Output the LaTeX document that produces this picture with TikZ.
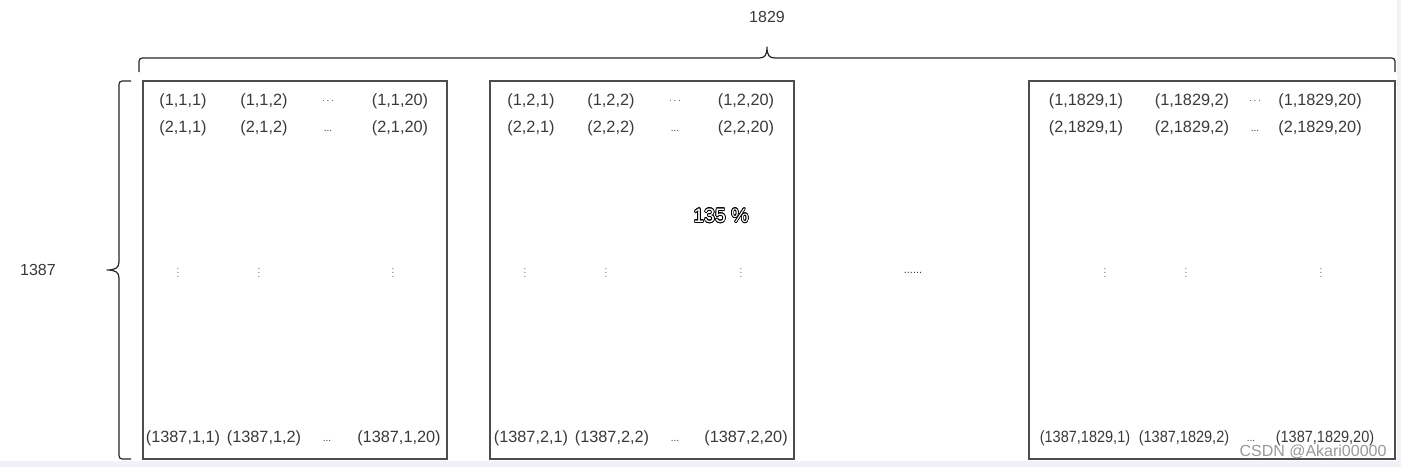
\documentclass[tikz,border=0pt]{standalone}
\usepackage{graphicx}
\usepackage{fontspec}
\setmainfont{Liberation Sans}
\usepackage[copies]{contour}
\contourlength{0.7pt}
\definecolor{txt}{HTML}{3A3A3A}
\definecolor{boxline}{HTML}{4D4D4D}
\definecolor{strip}{HTML}{EFF3F8}
\newcommand{\narrowtxt}[1]{\scalebox{0.89}[1]{#1}}
\begin{document}
\begin{tikzpicture}[x=1pt,y=-1pt,
  cell/.style={inner sep=0pt,text=txt,font=\fontsize{16.3}{18}\selectfont},
  vd/.style={inner sep=0pt,text=txt!80,font=\fontsize{9.5}{10}\selectfont},
  lbl/.style={inner sep=0pt,text=txt,font=\fontsize{16}{18}\selectfont},
  blk/.style={draw=boxline,line width=1.6pt,inner sep=0pt,minimum height=378pt},
  brace/.style={draw=black!85,line width=1.2pt,line join=round}]
\useasboundingbox (0,0) rectangle (1401,467);
\fill[white] (0,0) rectangle (1401,467);
\fill[strip] (0,461) rectangle (1401,467);
\fill[strip] (1397,0) rectangle (1401,467);

% blocks
\node[blk,minimum width=304pt] (blk1) at (295,270) {};
\node[blk,minimum width=304pt] (blk2) at (642,270) {};
\node[blk,minimum width=366pt] (blk3) at (1212,270) {};

% top brace
\coordinate (tl) at (139,72);
\coordinate (tr) at (1395,72);
\coordinate (tt) at (767,47);
\draw[brace] (tl) -- (139,65) .. controls (139,58) .. (146,58) -- (759,58)
  .. controls (765,58) and (767,55) .. (tt)
  .. controls (767,55) and (769,58) .. (775,58) -- (1388,58)
  .. controls (1395,58) .. (1395,65) -- (tr);
\node[lbl] (n1829) at (767,17) {1829};

% left brace
\coordinate (lt) at (131,81);
\coordinate (lb) at (131,459);
\coordinate (lm) at (107,270);
\draw[brace] (lt) -- (126,81) .. controls (119,81) .. (119,88) -- (119,262)
  .. controls (119,268) and (115,270) .. (lm)
  .. controls (115,270) and (119,272) .. (119,278) -- (119,452)
  .. controls (119,459) .. (126,459) -- (lb);
\node[lbl] (n1387) at (38,270) {1387};

% block 1
\node[cell] (a11) at (183,101) {(1,1,1)};
\node[cell] (a12) at (264,101) {(1,1,2)};
\node[cell,font=\fontsize{10}{11}\selectfont] (a1d) at (328,101) {$\cdots$};
\node[cell] (a1n) at (400,101) {(1,1,20)};
\node[cell] (a21) at (183,128) {(2,1,1)};
\node[cell] (a22) at (264,128) {(2,1,2)};
\node[cell] (a2d) at (328,131) {\fontsize{10}{11}\selectfont...};
\node[cell] (a2n) at (400,128) {(2,1,20)};
\node[vd] (av1) at (178,270) {$\vdots$};
\node[vd] (av2) at (259,270) {$\vdots$};
\node[vd] (av3) at (393,270) {$\vdots$};
\node[cell] (am1) at (183,438) {(1387,1,1)};
\node[cell] (am2) at (264,438) {(1387,1,2)};
\node[cell] (amd) at (327,441) {\fontsize{10}{11}\selectfont...};
\node[cell] (amn) at (399,438) {(1387,1,20)};

% block 2
\node[cell] (b11) at (531,101) {(1,2,1)};
\node[cell] (b12) at (611,101) {(1,2,2)};
\node[cell,font=\fontsize{10}{11}\selectfont] (b1d) at (675,101) {$\cdots$};
\node[cell] (b1n) at (746,101) {(1,2,20)};
\node[cell] (b21) at (531,128) {(2,2,1)};
\node[cell] (b22) at (611,128) {(2,2,2)};
\node[cell] (b2d) at (675,131) {\fontsize{10}{11}\selectfont...};
\node[cell] (b2n) at (746,128) {(2,2,20)};
\node[vd] (bv1) at (525,270) {$\vdots$};
\node[vd] (bv2) at (606,270) {$\vdots$};
\node[vd] (bv3) at (741,270) {$\vdots$};
\node[cell] (bm1) at (531,438) {(1387,2,1)};
\node[cell] (bm2) at (612,438) {(1387,2,2)};
\node[cell] (bmd) at (675,441) {\fontsize{10}{11}\selectfont...};
\node[cell] (bmn) at (746,438) {(1387,2,20)};

% middle dots
\node[cell] (mid) at (913,273) {\fontsize{11}{12}\selectfont......};

% block 3
\node[cell] (c11) at (1086,101) {(1,1829,1)};
\node[cell] (c12) at (1192,101) {(1,1829,2)};
\node[cell,font=\fontsize{10}{11}\selectfont] (c1d) at (1255,101) {$\cdots$};
\node[cell] (c1n) at (1320,101) {(1,1829,20)};
\node[cell] (c21) at (1086,128) {(2,1829,1)};
\node[cell] (c22) at (1192,128) {(2,1829,2)};
\node[cell] (c2d) at (1255,131) {\fontsize{10}{11}\selectfont...};
\node[cell] (c2n) at (1320,128) {(2,1829,20)};
\node[vd] (cv1) at (1105,270) {$\vdots$};
\node[vd] (cv2) at (1186,270) {$\vdots$};
\node[vd] (cv3) at (1321,270) {$\vdots$};
\node[cell] (cm1) at (1085,438) {\narrowtxt{(1387,1829,1)}};
\node[cell] (cm2) at (1184,438) {\narrowtxt{(1387,1829,2)}};
\node[cell] (cmd) at (1251,441) {\fontsize{10}{11}\selectfont...};
\node[cell] (cmn) at (1325,438) {\narrowtxt{(1387,1829,20)}};

% overlays
\node[inner sep=0pt,font=\fontsize{19.5}{20}\selectfont] (zoom) at (721,216) {\contour{black}{\textcolor{white}{135 \%}}};
\node[inner sep=0pt,text=black!40,font=\fontsize{16}{17}\selectfont] (wm) at (1313,452) {CSDN @Akari00000};
\end{tikzpicture}
\end{document}
